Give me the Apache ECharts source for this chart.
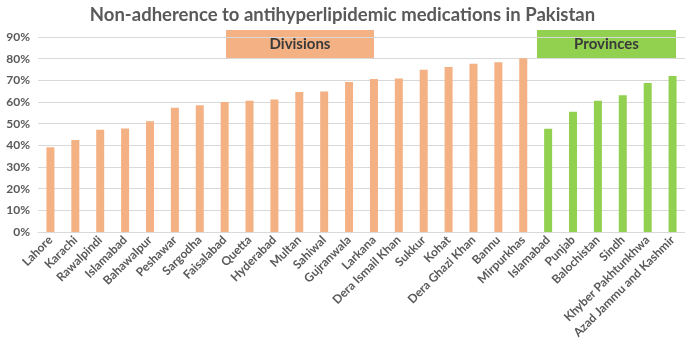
<!DOCTYPE html>
<html>
<head>
<meta charset="utf-8">
<script src="https://cdn.jsdelivr.net/npm/echarts@6/dist/echarts.min.js"></script>
<style>
  html, body { margin: 0; padding: 0; background: #fff; }
  #main { width: 685px; height: 347px; }
</style>
</head>
<body>
<div id="main"></div>
<script>
// 类别
const divisions = ['Lahore', 'Karachi', 'Rawalpindi', 'Islamabad', 'Bahawalpur', 'Peshawar',
  'Sargodha', 'Faisalabad', 'Quetta', 'Hyderabad', 'Multan', 'Sahiwal', 'Gujranwala',
  'Larkana', 'Dera Ismail Khan', 'Sukkur', 'Kohat', 'Dera Ghazi Khan', 'Bannu', 'Mirpurkhas'];
const provinces = ['Islamabad', 'Punjab', 'Balochistan', 'Sindh', 'Khyber Pakhtunkhwa',
  'Azad Jammu and Kashmir'];

// 百分比数值
const divisionValues = [39.1, 42.5, 47.2, 47.8, 51.1, 57.4, 58.5, 60.0, 60.6, 61.1, 64.6, 64.8,
  69.2, 70.6, 70.9, 74.9, 76.2, 77.6, 78.3, 80.2];
const provinceValues = [47.7, 55.5, 60.6, 63.1, 68.8, 72.0];

const categories = divisions.concat(provinces);
const divData = divisionValues.concat(provinces.map(() => '-'));
const provData = divisions.map(() => '-').concat(provinceValues);

const txt = '#595959';
const font = 'Lato';

var myChart = echarts.init(document.getElementById('main'));

var option = {
  title: {
    text: 'Non-adherence to antihyperlipidemic medications in Pakistan',
    left: 'center',
    top: 1,
    textStyle: { fontFamily: font, fontSize: 18.5, fontWeight: 'bold', color: txt }
  },
  grid: { left: 38, right: 0, top: 37, bottom: 115 },
  xAxis: {
    type: 'category',
    data: categories,
    axisTick: { show: false },
    axisLine: { lineStyle: { color: '#d9d9d9' } },
    axisLabel: {
      rotate: 45,
      interval: 0,
      margin: 6,
      fontFamily: font,
      fontSize: 12,
      fontWeight: 'bold',
      color: txt
    }
  },
  yAxis: {
    type: 'value',
    min: 0,
    max: 90,
    interval: 10,
    axisLabel: {
      formatter: '{value}%',
      fontFamily: font,
      fontSize: 12,
      fontWeight: 'bold',
      color: txt,
      margin: 8
    },
    splitLine: { lineStyle: { color: '#d9d9d9' } }
  },
  series: [
    {
      name: 'Divisions',
      type: 'bar',
      data: divData,
      barWidth: 8,
      barGap: '-100%',
      itemStyle: { color: '#F4B183' }
    },
    {
      name: 'Provinces',
      type: 'bar',
      data: provData,
      barWidth: 8,
      itemStyle: { color: '#92D050' }
    }
  ],
  graphic: [
    {
      type: 'rect',
      shape: { x: 226, y: 30, width: 148, height: 28 },
      style: { fill: '#F4B183' },
      textContent: {
        style: { text: 'Divisions', fontFamily: font, fontSize: 15, fontWeight: 'bold', fill: '#3a3a3a' }
      },
      textConfig: { position: 'inside' }
    },
    {
      type: 'rect',
      shape: { x: 537, y: 30, width: 139, height: 28 },
      style: { fill: '#92D050' },
      textContent: {
        style: { text: 'Provinces', fontFamily: font, fontSize: 15, fontWeight: 'bold', fill: '#3a3a3a' }
      },
      textConfig: { position: 'inside' }
    }
  ]
};
myChart.setOption(option);
</script>
</body>
</html>
